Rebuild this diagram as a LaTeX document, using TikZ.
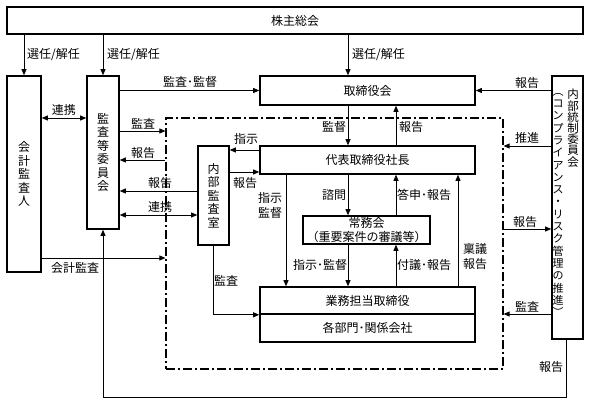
\documentclass[tikz,border=0pt]{standalone}
\usepackage{fontspec}
\newfontfamily\cjk{Noto Sans CJK JP}
\usetikzlibrary{arrows.meta}
\tikzset{
  box/.style={draw, line width=1.6pt, inner sep=0pt, align=center,
    font=\cjk\fontsize{12}{15}\selectfont},
  vbox/.style={box, font=\cjk\fontsize{12}{13.4}\selectfont},
  lbl/.style={inner sep=0pt, align=center, font=\cjk\fontsize{12}{14}\selectfont},
  vtxt/.style={inner sep=0pt, align=center},
  arr/.style={-{Triangle[length=6pt,width=5pt]}, line width=0.8pt},
  darr/.style={{Triangle[length=6pt,width=5pt]}-{Triangle[length=6pt,width=5pt]}, line width=0.8pt},
  ln/.style={line width=0.8pt},
  dashframe/.style={draw, line width=1.2pt, dash pattern=on 9pt off 3pt on 2pt off 3pt}
}
\begin{document}
\begin{tikzpicture}[x=1pt,y=-1pt]
\useasboundingbox (0,0) rectangle (590,404);
% columns
\coordinate (cA) at (348,0);
\coordinate (cB) at (396,0);
\coordinate (cC) at (458,0);
\coordinate (cD) at (286,0);
% frame
\node[dashframe, minimum width=337pt, minimum height=251pt, inner sep=0pt] (frame) at (334.5,243.5) {};
% boxes
\node[box, minimum width=576pt, minimum height=27pt] (sh) at (295,20.5) {株主総会};
\node[vbox, minimum width=34pt, minimum height=196pt] (kaikei) at (24,174) {会\\計\\監\\査\\人};
\node[vbox, minimum width=32pt, minimum height=153pt] (kansa) at (103,152.5) {監\\査\\等\\委\\員\\会};
\node[box, minimum width=215pt, minimum height=29pt, fill=white] (tori) at (367.5,90.5) {取締役会};
\node[box, minimum width=215pt, minimum height=28pt, fill=white] (daihyo) at (367.5,160) {代表取締役社長};
\node[vbox, minimum width=31pt, minimum height=99pt, fill=white] (naibu) at (213.5,195.5) {内\\部\\監\\査\\室};
\node[box, minimum width=127pt, minimum height=28pt, font=\cjk\fontsize{12}{14}\selectfont] (jomu) at (366.5,230) {常務会\\（重要案件の審議等）};
\node[box, minimum width=215pt, minimum height=27pt] (gyomu) at (367.5,300.5) {業務担当取締役};
\node[box, minimum width=215pt, minimum height=28pt] (kakubu) at (367.5,328) {各部門･関係会社};
\node[box, minimum width=31pt, minimum height=263pt] (naito) at (567.5,207.5) {};
\node[vtxt, anchor=north, font=\cjk\fontsize{11.5}{11.2}\selectfont] (naitoA) at (573,89) {内\\部\\統\\制\\委\\員\\会};
\node[vtxt, anchor=north, font=\cjk\fontsize{11}{12.3}\selectfont] (naitoB) at (558,93) {︵\\コ\\ン\\プ\\ラ\\イ\\ア\\ン\\ス\\・\\リ\\ス\\ク\\管\\理\\の\\推\\進\\︶};
% from shareholders
\draw[arr] (sh.south -| kaikei.north) -- (kaikei.north);
\node[lbl, anchor=west] (l1) at (27,55) {選任/解任};
\draw[arr] (sh.south -| kansa.north) -- (kansa.north);
\node[lbl, anchor=west] (l2) at (107,55) {選任/解任};
\draw[arr] (cA |- sh.south) -- (cA |- tori.north);
\node[lbl, anchor=west] (l3) at (352,55) {選任/解任};
% audit committee relations
\draw[arr] (kansa.east |- tori.west) -- (tori.west);
\node[lbl] (l4) at (190,82) {監査･監督};
\draw[darr] (kaikei.east |- 0,118) -- (kansa.west |- 0,118);
\node[lbl] (l5) at (64,110) {連携};
\draw[arr] (kansa.east |- 0,131) -- (frame.west |- 0,131);
\node[lbl] (l6) at (143,123.5) {監査};
\draw[arr] (frame.west |- 0,160) -- (kansa.east |- 0,160);
\node[lbl] (l7) at (143,152.5) {報告};
\draw[arr] (naibu.west |- 0,191) -- (kansa.east |- 0,191);
\node[lbl] (l8) at (160,183) {報告};
\draw[darr] (kansa.east |- 0,215) -- (naibu.west |- 0,215);
\node[lbl] (l9) at (160,207) {連携};
\draw[arr] (kaikei.east |- 0,258) -- (frame.west |- 0,258);
\node[lbl] (l10) at (75,268) {会計監査};
% internal audit
\draw[arr] (daihyo.west |- 0,150) -- (naibu.east |- 0,150);
\node[lbl] (l11) at (246,139) {指示};
\draw[arr] (naibu.east |- 0,172) -- (daihyo.west |- 0,172);
\node[lbl] (l12) at (245,183) {報告};
\draw[arr] (naibu.south) -- (naibu.south |- gyomu.south west) -- (gyomu.south west);
\node[lbl] (l13) at (226,281) {監査};
% board & president
\draw[arr] (cA |- tori.south) -- (cA |- daihyo.north);
\node[lbl] (l14) at (334,127) {監督};
\draw[arr] (cB |- daihyo.north) -- (cB |- tori.south);
\node[lbl] (l15) at (411,127) {報告};
\draw[arr] (cD |- daihyo.south) -- (cD |- gyomu.north);
\node[lbl, font=\cjk\fontsize{12}{15}\selectfont] (l16) at (270,205) {指示\\監督};
\draw[arr] (cA |- daihyo.south) -- (cA |- jomu.north);
\node[lbl] (l17) at (334,195) {諮問};
\draw[arr] (cB |- jomu.north) -- (cB |- daihyo.south);
\node[lbl] (l18) at (424,195) {答申･報告};
\draw[arr] (cC |- gyomu.north) -- (cC |- daihyo.south);
\node[lbl, font=\cjk\fontsize{12}{15}\selectfont] (l19) at (475,256) {稟議\\報告};
\draw[arr] (cA |- jomu.south) -- (cA |- gyomu.north);
\node[lbl] (l20) at (320,265) {指示･監督};
\draw[arr] (cB |- gyomu.north) -- (cB |- jomu.south);
\node[lbl] (l21) at (424,265) {付議･報告};
% internal control committee
\draw[arr] (naito.west |- tori.east) -- (tori.east);
\node[lbl] (l22) at (527,83) {報告};
\draw[arr] (naito.west |- 0,146) -- (frame.east |- 0,146);
\node[lbl] (l23) at (527,138) {推進};
\draw[arr] (frame.east |- 0,229) -- (naito.west |- 0,229);
\node[lbl] (l24) at (525,222) {報告};
\draw[arr] (naito.west |- 0,314) -- (frame.east |- 0,314);
\node[lbl] (l25) at (527,307) {監査};
\draw[arr] (naito.south -| 566,0) -- (566,397) -- (kansa.south |- 0,397) -- (kansa.south);
\node[lbl] (l26) at (551,367) {報告};
\end{tikzpicture}
\end{document}
